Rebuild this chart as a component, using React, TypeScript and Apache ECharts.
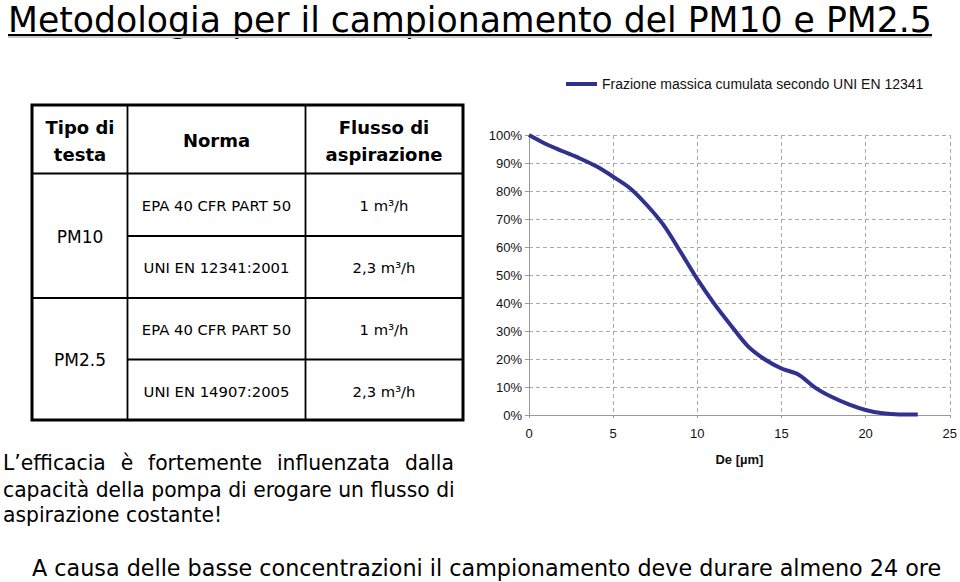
import React, { useEffect, useRef } from "react";
import * as echarts from "echarts";

// ---- Data ----
const titleText = "Metodologia per il campionamento del PM10 e PM2.5";
const seriesName = "Frazione massica cumulata secondo UNI EN 12341";
const diameters = [0, 1, 2, 3, 4, 5, 6, 7, 8, 9, 10, 11, 12, 13, 14, 15, 16, 17, 18, 19, 20, 21, 22, 23.1];
const cumulativeFraction = [100, 96.8, 94.2, 91.7, 88.8, 85.1, 81, 75, 67.8, 58.3, 48.5, 39.8, 32, 24.6, 19.9, 16.6, 14.5, 9.8, 6.4, 3.8, 1.8, 0.6, 0.2, 0.2];
const xAxisName = "De [µm]";

const tableHeaders = ["Tipo di\ntesta", "Norma", "Flusso di\naspirazione"];
const headTypes = ["PM10", "PM2.5"];
const norms = ["EPA 40 CFR PART 50", "UNI EN 12341:2001", "EPA 40 CFR PART 50", "UNI EN 14907:2005"];
const flows = ["1 m³/h", "2,3 m³/h", "1 m³/h", "2,3 m³/h"];

const noteLines = [
  "L’efficacia è fortemente influenzata dalla",
  "capacità della pompa di erogare un flusso di",
  "aspirazione costante!",
];
const bottomText = "A causa delle basse concentrazioni il campionamento deve durare almeno 24 ore";

const SANS = '"DejaVu Sans"';
const CHART_FONT = '"Liberation Sans", Arial, sans-serif';

let ctx: CanvasRenderingContext2D | null = null;
function measure(text: string, size: number, weight = "normal", family = SANS) {
  if (!ctx) ctx = document.createElement("canvas").getContext("2d");
  ctx!.font = `${weight} ${size}px ${family}`;
  return ctx!.measureText(text).width;
}

function txt(text: string, x: number, y: number, size: number, opts: any = {}) {
  return {
    type: "text",
    x,
    y,
    scaleX: opts.scaleX ?? 1,
    style: {
      text,
      fontSize: size,
      fontFamily: opts.family ?? SANS,
      fontWeight: opts.weight ?? "normal",
      fill: "#000",
      align: opts.align ?? "left",
      verticalAlign: "middle",
      textAlign: opts.align ?? "left",
      textVerticalAlign: "middle",
      lineHeight: opts.lineHeight,
    },
  };
}

function buildGraphics() {
  const g: any[] = [];
  // Title: font size fitted so the natural width is 924px
  const tSize = (35 * 924) / measure(titleText, 35);
  g.push(txt(titleText, 8, 19.5, tSize));
  g.push({ type: "line", shape: { x1: 8, y1: 37, x2: 932, y2: 37 }, style: { stroke: "#c8c8c8", lineWidth: 2 } });
  g.push({ type: "line", shape: { x1: 8, y1: 35, x2: 932, y2: 35 }, style: { stroke: "#000", lineWidth: 2 } });

  // Table
  const L = 32, R = 463, T = 105, B = 420;
  const c1 = 127.5, c2 = 305.5;
  g.push({ type: "rect", shape: { x: L, y: T, width: R - L, height: B - T }, style: { fill: "#fff", stroke: "#000", lineWidth: 3 } });
  const lines = [
    [c1, T, c1, B], [c2, T, c2, B],
    [L, 173.5, R, 173.5], [c1, 236, R, 236],
    [L, 298, R, 298], [c1, 359.5, R, 359.5],
  ];
  lines.forEach(([x1, y1, x2, y2]) =>
    g.push({ type: "line", shape: { x1, y1, x2, y2 }, style: { stroke: "#000", lineWidth: 1.8 } })
  );
  const colX = [80, 216.5, 384];
  tableHeaders.forEach((h, i) =>
    g.push(txt(h, colX[i], i === 1 ? 140 : 140.5, 18, { weight: "bold", align: "center", lineHeight: 27 }))
  );
  const headY = [236.5, 360];
  headTypes.forEach((h, i) => g.push(txt(h, colX[0], headY[i], 17, { align: "center" })));
  const rowY = [205, 267.5, 329, 391];
  norms.forEach((n, i) => g.push(txt(n, colX[1], rowY[i], 14.8, { align: "center" })));
  flows.forEach((f, i) => g.push(txt(f, colX[2], rowY[i], 14.8, { align: "center" })));

  // Note paragraph (justified first line)
  const nSize = 21;
  const nScale = 452 / measure(noteLines[1], nSize);
  const words = noteLines[0].split(" ");
  const wWidths = words.map((w) => measure(w, nSize) * nScale);
  const gap = (451 - wWidths.reduce((a, b) => a + b, 0)) / (words.length - 1);
  let cx = 3;
  words.forEach((w, i) => {
    g.push(txt(w, cx, 462.5, nSize, { scaleX: nScale }));
    cx += wWidths[i] + gap;
  });
  g.push(txt(noteLines[1], 3, 489.5, nSize, { scaleX: nScale }));
  g.push(txt(noteLines[2], 3, 514.5, nSize, { scaleX: nScale }));

  // Bottom line
  const bSize = 23;
  const bScale = 910 / measure(bottomText, bSize);
  g.push(txt(bottomText, 32, 567.5, bSize, { scaleX: bScale }));
  return g;
}

export default function App() {
  const ref = useRef<HTMLDivElement>(null);
  useEffect(() => {
    document.body.style.margin = "0";
    const chart = echarts.init(ref.current!, null, { renderer: "svg" });
    chart.setOption({
      animation: false,
      backgroundColor: "#fff",
      legend: {
        left: 561,
        top: 72,
        icon: "rect",
        itemWidth: 31,
        itemHeight: 4,
        textStyle: { fontFamily: CHART_FONT, fontSize: 14, color: "#111" },
        data: [seriesName],
      },
      grid: { left: 529, top: 135, width: 422, height: 280, containLabel: false },
      xAxis: {
        type: "value",
        min: 0,
        max: 25,
        interval: 5,
        name: xAxisName,
        nameLocation: "middle",
        nameGap: 38,
        nameTextStyle: { fontFamily: CHART_FONT, fontSize: 13, fontWeight: "bold", color: "#111" },
        axisLine: { show: true, lineStyle: { color: "#999", width: 1 } },
        axisTick: { show: true, length: 3, lineStyle: { color: "#999" } },
        axisLabel: { margin: 12, fontFamily: CHART_FONT, fontSize: 13, color: "#111" },
        splitLine: { show: true, lineStyle: { color: "#aaa", type: [4, 3], width: 1 } },
      },
      yAxis: {
        type: "value",
        min: 0,
        max: 100,
        interval: 10,
        axisLine: { show: true, lineStyle: { color: "#999", width: 1 } },
        axisTick: { show: true, length: 4, lineStyle: { color: "#999" } },
        axisLabel: { margin: 7, fontFamily: CHART_FONT, fontSize: 13, color: "#111", formatter: "{value}%" },
        splitLine: { show: true, lineStyle: { color: "#aaa", type: [4, 3], width: 1 } },
      },
      series: [
        {
          name: seriesName,
          type: "line",
          smooth: 0.3,
          symbol: "none",
          color: "#31318f",
          lineStyle: { width: 4, color: "#31318f" },
          data: diameters.map((d, i) => [d, cumulativeFraction[i]]),
        },
      ],
      graphic: { elements: buildGraphics() },
    });
    return () => chart.dispose();
  }, []);
  return <div ref={ref} style={{ width: 960, height: 582 }} />;
}
